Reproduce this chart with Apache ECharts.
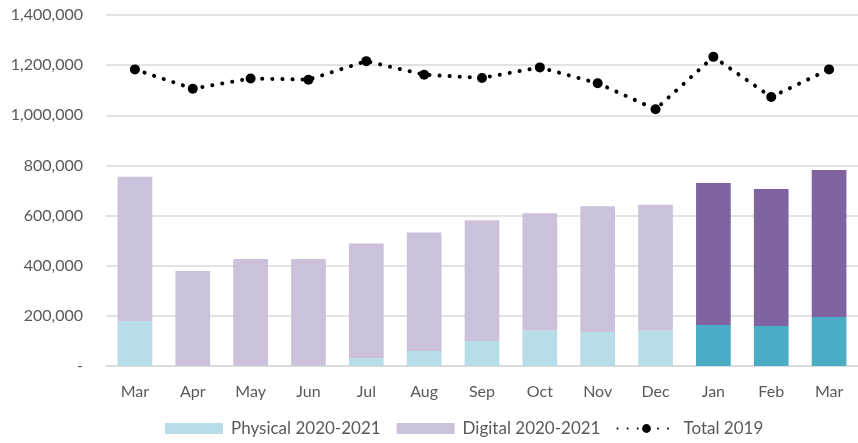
<!DOCTYPE html>
<html>
<head>
<meta charset="utf-8">
<script src="https://cdn.jsdelivr.net/npm/echarts@6/dist/echarts.min.js"></script>
<style>
  html, body { margin: 0; padding: 0; background: #fff; }
  #main { width: 858px; height: 443px; }
</style>
</head>
<body>
<div id="main"></div>
<script>
// months, Mar 2020 .. Mar 2021
var months = ['Mar', 'Apr', 'May', 'Jun', 'Jul', 'Aug', 'Sep', 'Oct', 'Nov', 'Dec', 'Jan', 'Feb', 'Mar'];
var physical = [179000, 2000, 2000, 2000, 31000, 60000, 100000, 142000, 136000, 142000, 164000, 160000, 195000];
var digital = [576000, 377000, 425000, 425000, 458000, 472000, 481000, 467000, 501000, 501000, 566000, 546000, 587000];
var total2019 = [1183000, 1106000, 1147000, 1142000, 1216000, 1162000, 1149000, 1191000, 1128000, 1024000, 1233000, 1073000, 1183000];
// last three months drawn in darker shades
var darkFrom = 10;

var txt = '#595959';
var font = 'Lato';

function colored(arr, light, dark) {
    return arr.map(function (v, i) {
        return { value: v, itemStyle: { color: i >= darkFrom ? dark : light } };
    });
}

var option = {
    backgroundColor: '#fff',
    animation: false,
    textStyle: { fontFamily: font },
    grid: {
        left: 106,
        right: -6,
        top: 15,
        bottom: 77
    },
    legend: {
        bottom: 1,
        left: 160,
        itemWidth: 58,
        itemHeight: 11,
        itemGap: 16,
        textStyle: { color: txt, fontSize: 17, fontFamily: font, padding: [0, 0, 0, 3] },
        data: [
            { name: 'Physical 2020-2021', icon: 'rect' },
            { name: 'Digital 2020-2021', icon: 'rect' },
            { name: 'Total 2019' }
        ]
    },
    xAxis: {
        type: 'category',
        data: months,
        axisTick: { show: false },
        axisLine: { lineStyle: { color: '#d9d9d9', width: 1.5 } },
        axisLabel: { color: txt, fontSize: 16, margin: 18 }
    },
    yAxis: {
        type: 'value',
        min: 0,
        max: 1400000,
        interval: 200000,
        axisLine: { show: false },
        axisTick: { show: false },
        splitLine: { lineStyle: { color: '#d9d9d9', width: 1.5 } },
        axisLabel: {
            color: txt,
            fontSize: 16,
            margin: 23,
            formatter: function (v) {
                if (v === 0) return '-';
                return v.toString().replace(/\B(?=(\d{3})+(?!\d))/g, ',');
            }
        }
    },
    series: [
        {
            name: 'Physical 2020-2021',
            type: 'bar',
            stack: 'all',
            barWidth: '60%',
            itemStyle: { color: '#b7dde8' },
            data: colored(physical, '#b7dde8', '#4bacc6')
        },
        {
            name: 'Digital 2020-2021',
            type: 'bar',
            stack: 'all',
            barWidth: '60%',
            itemStyle: { color: '#ccc1da' },
            data: colored(digital, '#ccc1da', '#8064a2')
        },
        {
            name: 'Total 2019',
            type: 'line',
            symbol: 'circle',
            symbolSize: 10,
            itemStyle: { color: '#000' },
            lineStyle: {
                color: '#000',
                width: 4,
                type: [0.1, 10],
                cap: 'round'
            },
            data: total2019
        }
    ]
};

var myChart = echarts.init(document.getElementById('main'));
myChart.setOption(option);
</script>
</body>
</html>
